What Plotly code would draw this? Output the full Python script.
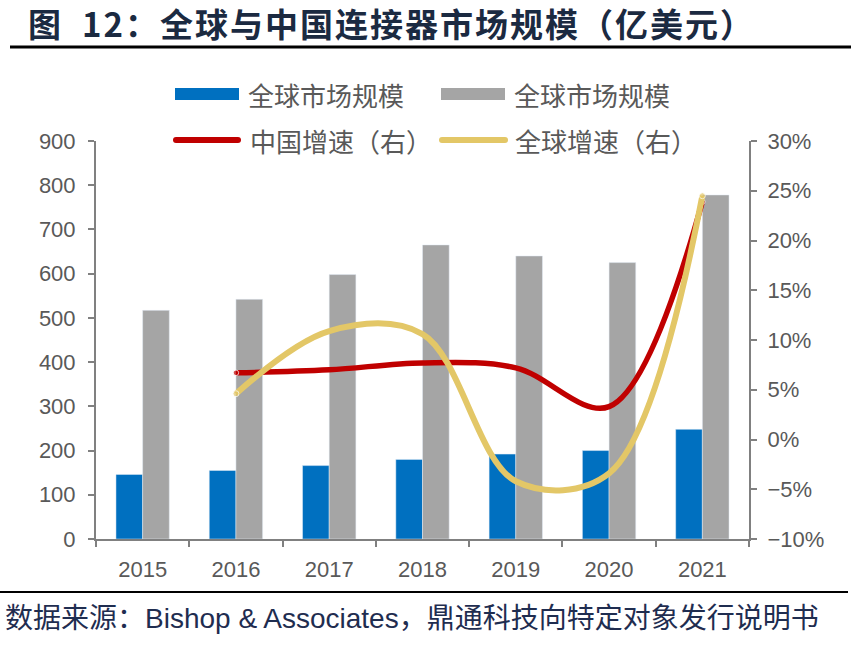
import plotly.graph_objects as go

years = ["2015", "2016", "2017", "2018", "2019", "2020", "2021"]
china_size = [146, 155, 166, 180, 192, 200, 248]
global_size = [517, 542, 598, 665, 640, 625, 778]
china_growth = [None, 6.7, 7.0, 7.7, 7.2, 3.3, 23.9]
global_growth = [None, 4.6, 10.9, 10.6, -4.2, -3.4, 24.5]

legend_bar_names = ["全球市场规模", "全球市场规模"]
legend_line_names = ["中国增速（右）", "全球增速（右）"]
title_text = "图  12：全球与中国连接器市场规模（亿美元）"
footer_text = "数据来源：Bishop & Associates，鼎通科技向特定对象发行说明书"

BLUE = "#0070C0"
GRAY = "#A5A5A5"
RED = "#C00000"
GOLD = "#E3C767"
AXIS = "#808080"
TICK = "#595959"

W, H = 851, 646
ML, MR, MT, MB = 96, 102, 141, 107
PW, PH = W - ML - MR, H - MT - MB


def xp(px):
    return (px - ML) / PW


def yp(py):
    return (H - MB - py) / PH


def end_sizes(vals, s):
    idx = [i for i, v in enumerate(vals) if v is not None]
    return [s if i in (idx[0], idx[-1]) else 0 for i in range(len(vals))]


fig = go.Figure()
fig.add_trace(go.Bar(x=years, y=china_size, marker_color=BLUE, name=legend_bar_names[0]))
fig.add_trace(go.Bar(x=years, y=global_size, marker_color=GRAY, name=legend_bar_names[1]))
fig.add_trace(go.Scatter(x=years, y=china_growth, yaxis="y2", mode="lines+markers",
                         line=dict(color=RED, width=5.5, shape="spline", smoothing=1),
                         marker=dict(color=RED, size=end_sizes(china_growth, 5.5)),
                         name=legend_line_names[0]))
fig.add_trace(go.Scatter(x=years, y=global_growth, yaxis="y2", mode="lines+markers",
                         line=dict(color=GOLD, width=6, shape="spline", smoothing=1),
                         marker=dict(color=GOLD, size=end_sizes(global_growth, 6)),
                         name=legend_line_names[1]))

tickfont = dict(family="Liberation Sans, Arial", size=22, color=TICK)
fig.update_layout(
    width=W, height=H,
    margin=dict(l=ML, r=MR, t=MT, b=MB),
    paper_bgcolor="white", plot_bgcolor="white",
    showlegend=False,
    barmode="group", bargap=0.428, bargroupgap=0,
    xaxis=dict(type="category", showline=True, linecolor=AXIS, linewidth=2,
               ticks="outside", tickson="boundaries", ticklen=6, tickcolor=AXIS, tickwidth=2,
               tickfont=tickfont, showgrid=False, zeroline=False, ticklabelstandoff=10),
    yaxis=dict(range=[0, 900], dtick=100, showline=True, linecolor=AXIS, linewidth=2,
               ticks="outside", ticklen=6, tickcolor=AXIS, tickwidth=2,
               tickfont=tickfont, showgrid=False, zeroline=False, ticklabelstandoff=8),
    yaxis2=dict(range=[-10, 30], dtick=5, ticksuffix="%", overlaying="y", side="right",
                showline=True, linecolor=AXIS, linewidth=2,
                ticks="outside", ticklen=6, tickcolor=AXIS, tickwidth=2,
                tickfont=tickfont, showgrid=False, zeroline=False, ticklabelstandoff=6),
)

shapes = []
annotations = []
cjk = "Noto Sans CJK SC"

# title & rules
annotations.append(dict(xref="paper", yref="paper", x=xp(26), y=yp(23), xanchor="left", yanchor="middle",
                        text='<span style="letter-spacing:2px"><b>' + title_text + "</b></span>",
                        showarrow=False,
                        font=dict(family=cjk, size=33, color="#1B2A41")))
shapes.append(dict(type="line", xref="paper", yref="paper", x0=xp(10), x1=xp(851), y0=yp(47), y1=yp(47),
                   line=dict(color="black", width=3)))
shapes.append(dict(type="line", xref="paper", yref="paper", x0=xp(0), x1=xp(848), y0=yp(592), y1=yp(592),
                   line=dict(color="black", width=2)))
annotations.append(dict(xref="paper", yref="paper", x=xp(3), y=yp(618), xanchor="left", yanchor="middle",
                        text=footer_text, showarrow=False,
                        font=dict(family="Liberation Sans, " + cjk, size=28, color="#1F2D50")))

# legend
leg_font = dict(family=cjk, size=26, color="#595959")
for (x0, x1, tx, col, name) in [(175, 239, 246, BLUE, legend_bar_names[0]),
                                 (441, 505, 512, GRAY, legend_bar_names[1])]:
    shapes.append(dict(type="rect", xref="paper", yref="paper", x0=xp(x0), x1=xp(x1),
                       y0=yp(100), y1=yp(88), fillcolor=col, line=dict(width=0)))
    annotations.append(dict(xref="paper", yref="paper", x=xp(tx), y=yp(94), xanchor="left",
                            yanchor="middle", text=name, showarrow=False, font=leg_font))
for (x0, x1, tx, col, name) in [(173, 241, 248, RED, legend_line_names[0]),
                                 (439, 508, 513, GOLD, legend_line_names[1])]:
    shapes.append(dict(type="line", xref="paper", yref="paper", x0=xp(x0 + 3), x1=xp(x1 - 3),
                       y0=yp(140), y1=yp(140), line=dict(color=col, width=6)))
    for cx in (x0 + 3, x1 - 3):
        shapes.append(dict(type="circle", xref="paper", yref="paper", xsizemode="pixel",
                           ysizemode="pixel", xanchor=xp(cx), yanchor=yp(140),
                           x0=-3, x1=3, y0=-3, y1=3, fillcolor=col, line=dict(width=0)))
    annotations.append(dict(xref="paper", yref="paper", x=xp(tx), y=yp(140), xanchor="left",
                            yanchor="middle", text=name, showarrow=False, font=leg_font))

fig.update_layout(shapes=shapes, annotations=annotations)
fig.write_html("out.html")
